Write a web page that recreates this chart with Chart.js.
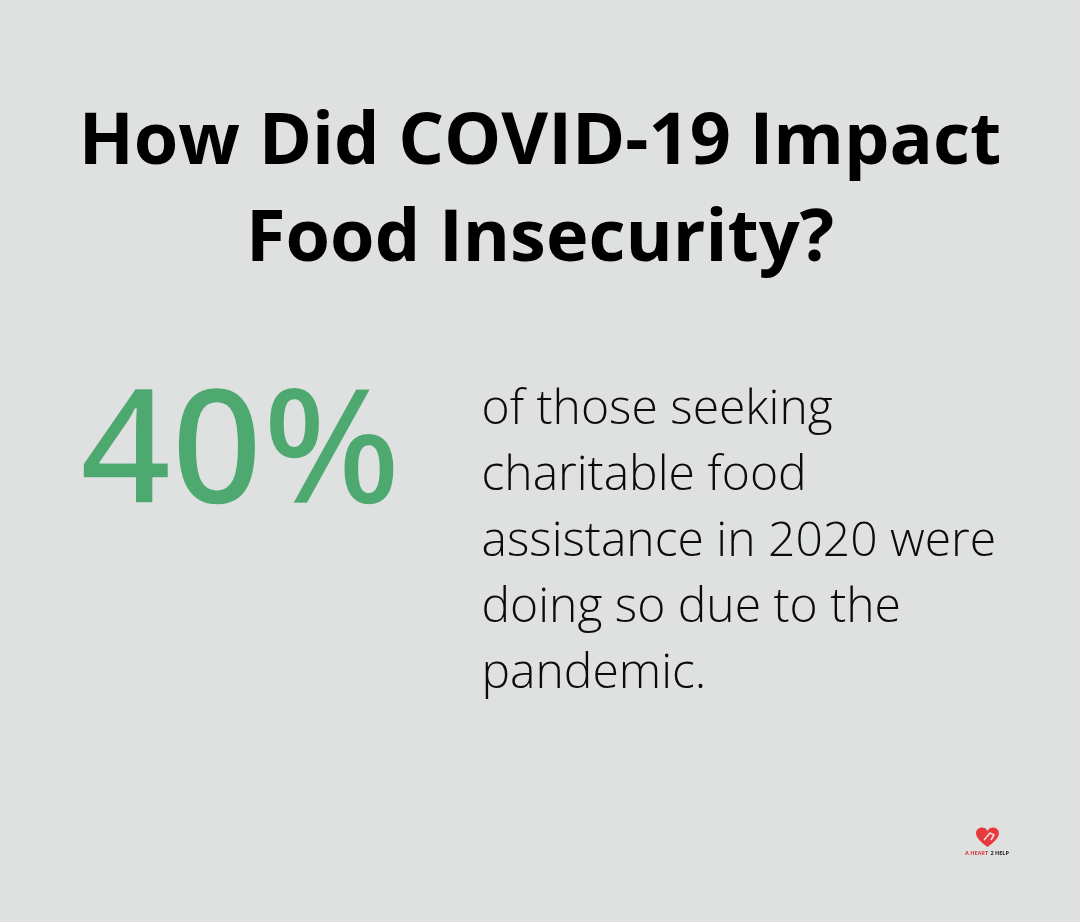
<!DOCTYPE html>
<html>
<head>
<meta charset="utf-8">
<title>How Did COVID-19 Impact Food Insecurity?</title>
<script src="https://cdn.jsdelivr.net/npm/chart.js@4"></script>
<style>
html, body { margin: 0; padding: 0; background: #dfe1e0; }
canvas { display: block; }
</style>
</head>
<body>
<canvas id="myChart" width="1080" height="922"></canvas>
<script>
var titleLines = ["How Did COVID-19 Impact", "Food Insecurity?"];
var categories = ["Seeking charitable food assistance due to the pandemic"];
var shareValues = [40];
var descriptionLines = ["of those seeking", "charitable food", "assistance in 2020 were", "doing so due to the", "pandemic."];
var logoRed = "A HEART";
var logoBlack = "2 HELP";

// the card has no axes, so the big number and the text are drawn after the chart
var cardText = {
	id: "cardText",
	afterDraw: function(chart) {
		var ctx = chart.ctx;
		ctx.save();
		ctx.textBaseline = "alphabetic";
		ctx.textAlign = "left";

		var bigText = chart.data.datasets[0].data[0] + "%";
		ctx.fillStyle = "#4da96f";
		ctx.font = "160px 'Open Sans SemiBold', 'Open Sans'";
		ctx.fillText(bigText, 80, 503);
		// SemiBold is a little too heavy here, thin it with the background colour
		ctx.strokeStyle = "#dfe1e0";
		ctx.lineWidth = 1.5;
		ctx.lineJoin = "round";
		ctx.strokeText(bigText, 80, 503);

		ctx.fillStyle = "#0b0b0b";
		ctx.font = "300 48px 'Open Sans'";
		descriptionLines.forEach(function(line, i) {
			ctx.fillText(line, 481.5, 424 + i * 66);
		});

		// logo: heart with a small white mark
		ctx.fillStyle = "#e63a3f";
		ctx.beginPath();
		ctx.moveTo(987.5, 847);
		ctx.bezierCurveTo(981, 842, 976, 838, 976, 833);
		ctx.bezierCurveTo(976, 827, 985, 825, 987.5, 831);
		ctx.bezierCurveTo(990, 825, 999, 827, 999, 833);
		ctx.bezierCurveTo(999, 838, 994, 842, 987.5, 847);
		ctx.fill();
		ctx.strokeStyle = "#f3e4e4";
		ctx.lineWidth = 1.5;
		ctx.beginPath();
		ctx.moveTo(984, 840);
		ctx.lineTo(990, 833);
		ctx.lineTo(994, 835);
		ctx.lineTo(991, 840);
		ctx.stroke();

		ctx.font = "bold 5.5px 'Open Sans'";
		ctx.fillStyle = "#d8383c";
		ctx.fillText(logoRed, 965, 855);
		ctx.fillStyle = "#1c1c1c";
		ctx.fillText(logoBlack, 990.5, 855);
		ctx.restore();
	}
};

var ctx = document.getElementById("myChart").getContext("2d");
var myChart = new Chart(ctx, {
	type: "bar",
	data: {
		labels: categories,
		datasets: [{
			label: "Share",
			data: shareValues,
			backgroundColor: "rgba(0, 0, 0, 0)"
		}]
	},
	options: {
		responsive: false,
		animation: false,
		layout: { padding: 0 },
		scales: {
			x: { display: false },
			y: { display: false, min: 0, max: 100 }
		},
		plugins: {
			legend: { display: false },
			tooltip: { enabled: false },
			title: {
				display: true,
				text: titleLines,
				color: "#000000",
				font: { family: "'Open Sans'", size: 72, weight: "bold", lineHeight: 1.347 },
				padding: { top: 95, bottom: 0 }
			}
		}
	},
	plugins: [cardText]
});
</script>
</body>
</html>
